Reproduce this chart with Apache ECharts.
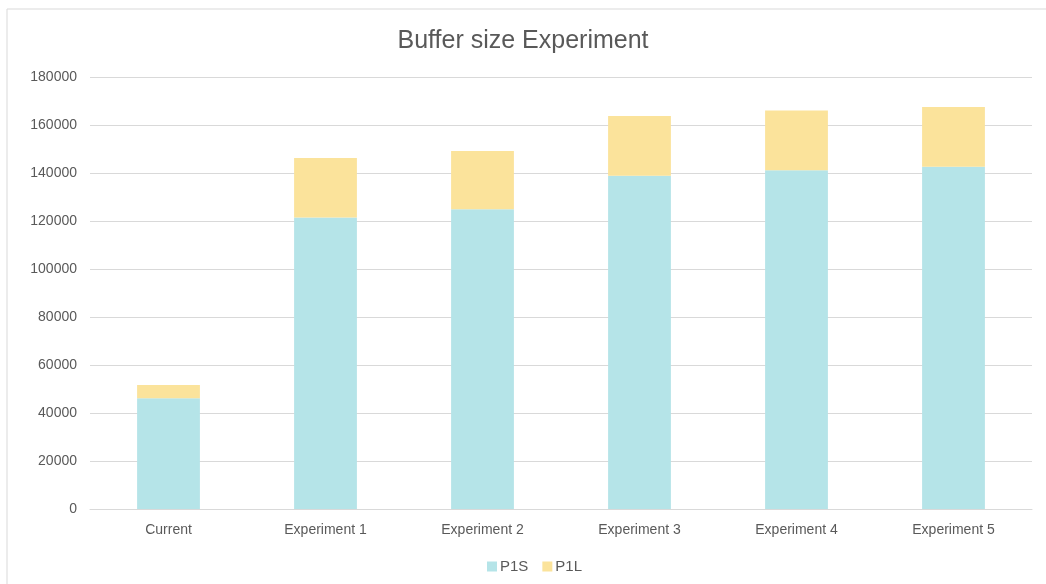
<!DOCTYPE html>
<html>
<head>
<meta charset="utf-8">
<script src="https://cdn.jsdelivr.net/npm/echarts@6/dist/echarts.min.js"></script>
<style>
html,body{margin:0;padding:0;background:#fff;}
#chart{width:1046px;height:584px;}
</style>
</head>
<body>
<div id="chart"></div>
<script>
var categories = ['Current', 'Experiment 1', 'Experiment 2', 'Experiment 3', 'Experiment 4', 'Experiment 5'];
var p1s = [46100, 121500, 124900, 138900, 141100, 142600];
var p1l = [5600, 24750, 24300, 24850, 24900, 24900];
var seriesNames = ['P1S', 'P1L'];
var yTicks = {min: 0, max: 180000, interval: 20000};

var chart = echarts.init(document.getElementById('chart'), null, {renderer: 'canvas'});
var font = 'Liberation Sans, Arial, sans-serif';
chart.setOption({
  animation: false,
  backgroundColor: '#ffffff',
  graphic: [{
    type: 'rect',
    shape: {x: 7, y: 9, width: 1200, height: 700},
    style: {fill: 'none', stroke: '#d9d9d9', lineWidth: 1},
    silent: true
  }],
  title: {
    text: 'Buffer size Experiment',
    left: 'center',
    top: 24,
    textStyle: {fontFamily: font, fontSize: 25, fontWeight: 'normal', color: '#595959'}
  },
  legend: {
    data: seriesNames,
    top: 554,
    left: 482,
    itemWidth: 10,
    itemHeight: 10,
    itemGap: 14,
    icon: 'rect',
    textStyle: {fontFamily: font, fontSize: 15, color: '#595959', padding: [0, 0, 0, -2]}
  },
  grid: {left: 90, right: 14, top: 77, bottom: 75, containLabel: false},
  xAxis: {
    type: 'category',
    data: categories,
    axisTick: {show: false},
    axisLine: {lineStyle: {color: '#d9d9d9'}},
    axisLabel: {fontFamily: font, fontSize: 14, color: '#595959', margin: 14}
  },
  yAxis: {
    type: 'value',
    min: yTicks.min,
    max: yTicks.max,
    interval: yTicks.interval,
    axisLine: {show: false},
    axisTick: {show: false},
    splitLine: {lineStyle: {color: '#d9d9d9'}},
    axisLabel: {fontFamily: font, fontSize: 14, color: '#595959', margin: 13, formatter: function (v) { return String(v); }}
  },
  series: [
    {name: seriesNames[0], type: 'bar', stack: 'total', data: p1s, barWidth: '40%', itemStyle: {color: '#b5e4e8'}},
    {name: seriesNames[1], type: 'bar', stack: 'total', data: p1l, barWidth: '40%', itemStyle: {color: '#fbe39b'}}
  ]
});
</script>
</body>
</html>
